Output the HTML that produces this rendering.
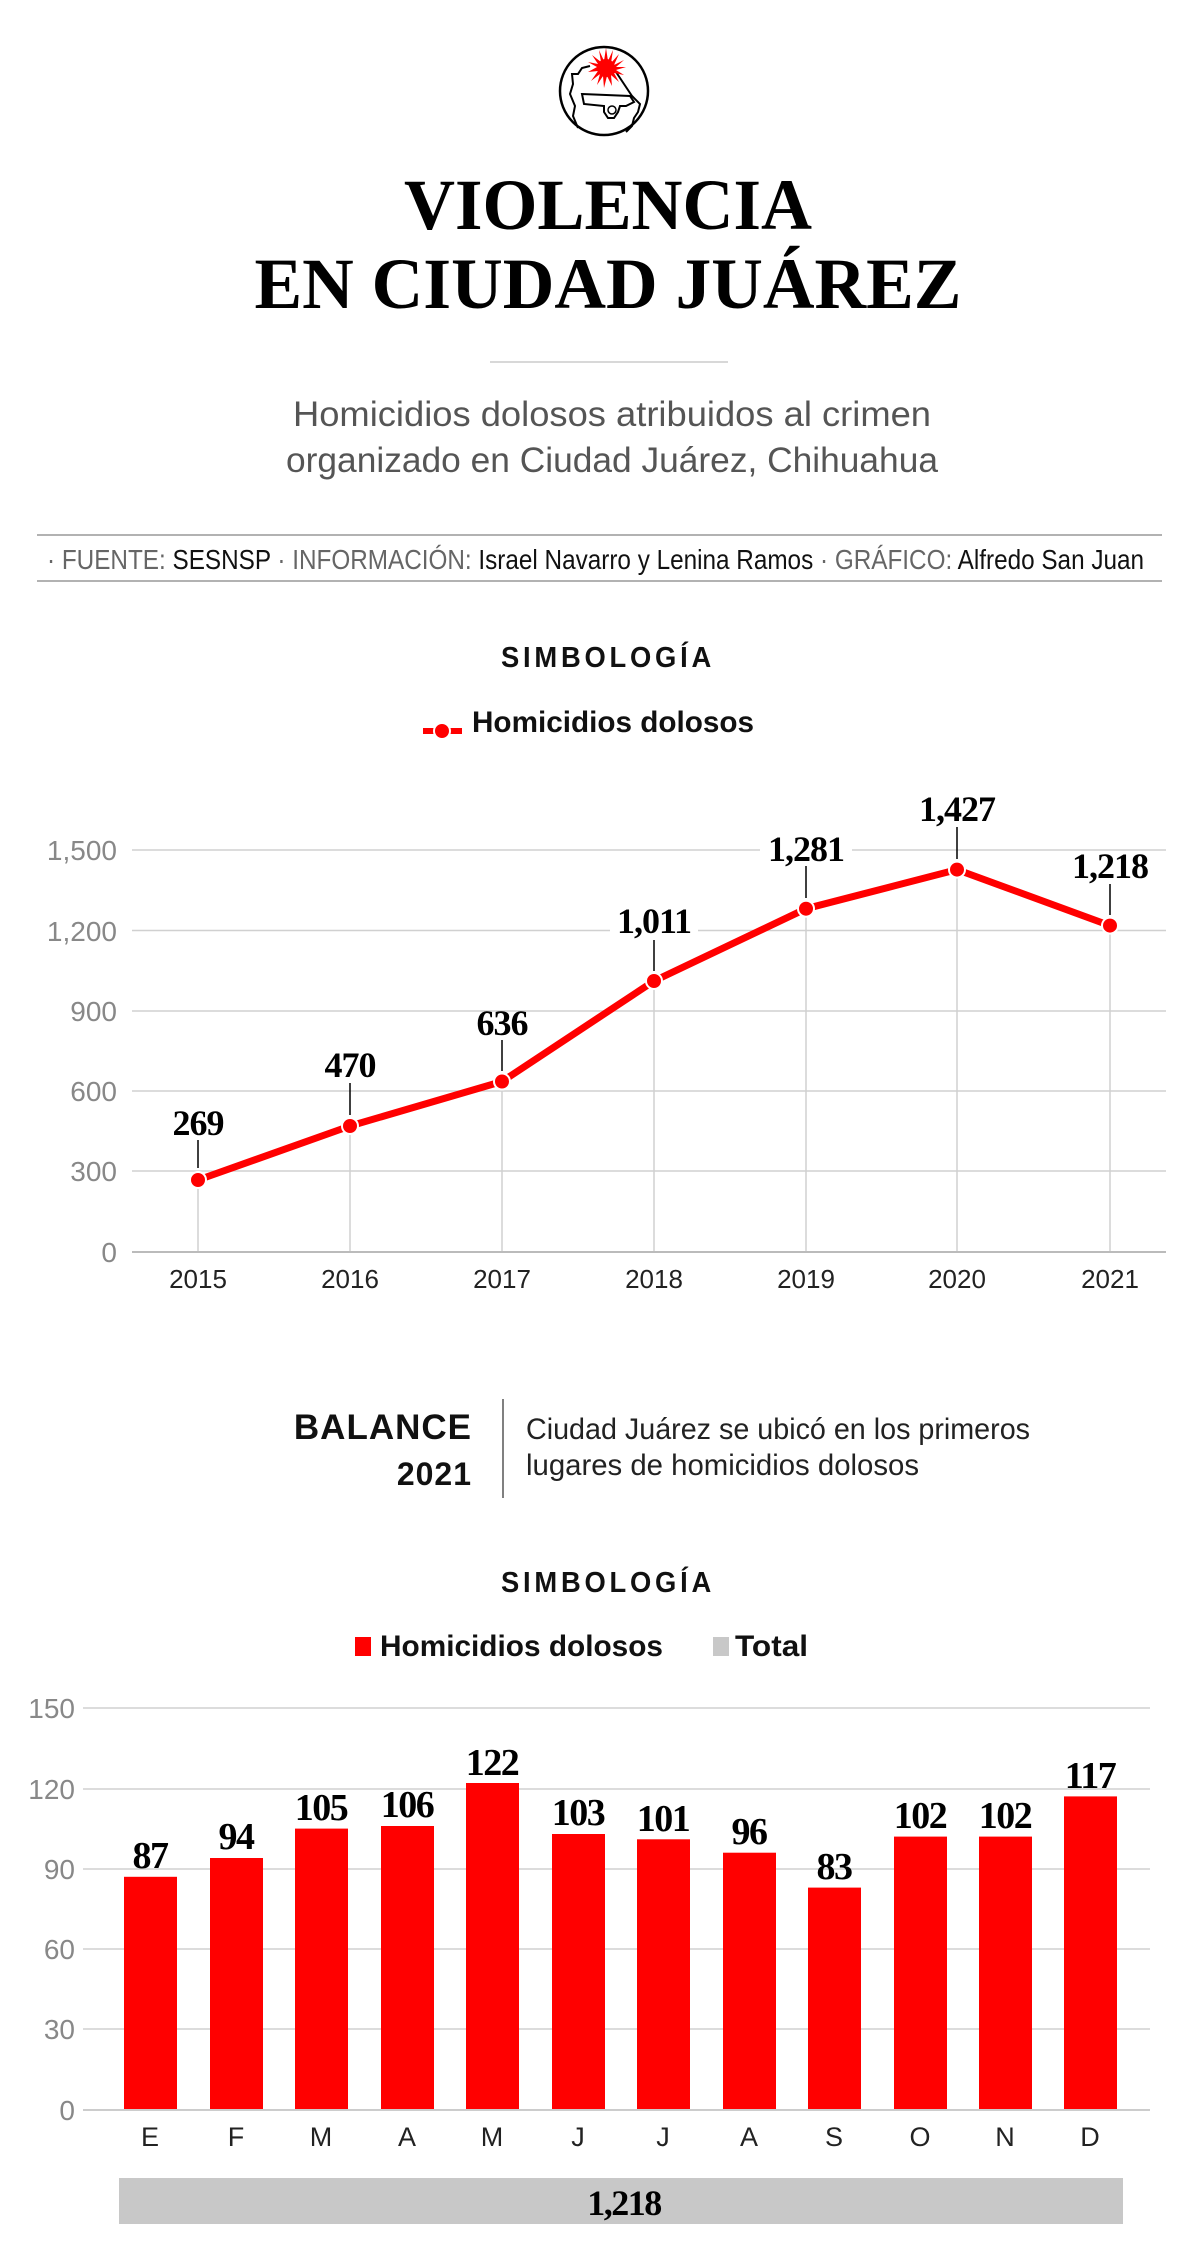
<!DOCTYPE html>
<html><head><meta charset="utf-8"><style>
html,body{margin:0;padding:0;background:#fff}
svg{display:block}
.cn{font-family:"Liberation Sans Narrow","Liberation Sans",sans-serif}
.sf{font-family:"Liberation Serif",serif;font-weight:bold}
</style></head><body>
<svg width="1200" height="2244" viewBox="0 0 1200 2244" xmlns="http://www.w3.org/2000/svg">
<rect width="1200" height="2244" fill="#fff"/>
<!-- logo -->
<g>
<circle cx="604" cy="91" r="44" fill="#fff" stroke="#000" stroke-width="2.5"/>
<path d="M590 66 L582 68 L578 74 L572 74 L573 84 L570 94 L575 106 L573 116 L578 128 M616 72 L624 84 L632 96 L640 104 L638 112 L634 118 L632 126 L626 132" fill="none" stroke="#000" stroke-width="2"/>
<path d="M582 94 L630 96 L634 102 L626 106 L620 106 L618 112 L614 118 L608 118 L604 112 L604 106 L584 104 Z" fill="#fff" stroke="#000" stroke-width="2"/>
<circle cx="612" cy="110" r="4" fill="none" stroke="#000" stroke-width="1.5"/>
<g fill="#f00">
<polygon points="606,48 608,61 613,50 611,63 619,54 614,65 624,60 616,67 626,67 616,70 624,75 614,73 619,82 611,75 612,86 607,76 604,88 603,76 597,85 600,74 591,81 598,71 588,72 597,67 588,62 598,64 592,55 601,62 599,50 604,61"/>
<circle cx="606" cy="68" r="9"/>
</g>
</g>
<!-- title -->
<text x="608" y="229" text-anchor="middle" class="sf" font-size="72" textLength="408" lengthAdjust="spacingAndGlyphs" fill="#000">VIOLENCIA</text>
<text x="608" y="308" text-anchor="middle" class="sf" font-size="72" textLength="707" lengthAdjust="spacingAndGlyphs" fill="#000">EN CIUDAD JUÁREZ</text>
<line x1="490" y1="362" x2="728" y2="362" stroke="#ccc" stroke-width="1.5"/>
<text x="612" y="426" text-anchor="middle" class="cn" font-size="35" fill="#555" textLength="638" lengthAdjust="spacingAndGlyphs">Homicidios dolosos atribuidos al crimen</text>
<text x="612" y="472" text-anchor="middle" class="cn" font-size="35" fill="#555" textLength="652" lengthAdjust="spacingAndGlyphs">organizado en Ciudad Juárez, Chihuahua</text>
<line x1="37" y1="535" x2="1162" y2="535" stroke="#999" stroke-width="1.5"/>
<line x1="37" y1="581" x2="1162" y2="581" stroke="#999" stroke-width="1.5"/>
<text x="47" y="569" class="cn" font-size="28" textLength="1097" lengthAdjust="spacingAndGlyphs"><tspan fill="#666">· FUENTE: </tspan><tspan fill="#111">SESNSP </tspan><tspan fill="#666">· INFORMACIÓN: </tspan><tspan fill="#111">Israel Navarro y Lenina Ramos </tspan><tspan fill="#666">· GRÁFICO: </tspan><tspan fill="#111">Alfredo San Juan</tspan></text>
<!-- legend 1 -->
<text x="608" y="667" text-anchor="middle" class="cn" font-weight="bold" font-size="29" letter-spacing="4" fill="#111" textLength="214" lengthAdjust="spacingAndGlyphs">SIMBOLOGÍA</text>
<line x1="423" y1="731" x2="462" y2="731" stroke="#f00" stroke-width="6"/>
<circle cx="442" cy="731" r="8" fill="#f00" stroke="#fff" stroke-width="2"/>
<text x="472" y="732" class="cn" font-weight="bold" font-size="30" fill="#111" textLength="282" lengthAdjust="spacingAndGlyphs">Homicidios dolosos</text>
<!-- chart 1 grid -->
<g stroke="#d0d0d0" stroke-width="1.5">
<line x1="132" y1="850" x2="1166" y2="850"/><line x1="132" y1="930.5" x2="1166" y2="930.5"/>
<line x1="132" y1="1011" x2="1166" y2="1011"/><line x1="132" y1="1091" x2="1166" y2="1091"/>
<line x1="132" y1="1171" x2="1166" y2="1171"/>
<line x1="198" y1="1180" x2="198" y2="1252"/><line x1="350" y1="1126" x2="350" y2="1252"/>
<line x1="502" y1="1081" x2="502" y2="1252"/><line x1="654" y1="981" x2="654" y2="1252"/>
<line x1="806" y1="909" x2="806" y2="1252"/><line x1="957" y1="870" x2="957" y2="1252"/>
<line x1="1110" y1="926" x2="1110" y2="1252"/>
</g>
<line x1="132" y1="1252" x2="1166" y2="1252" stroke="#bbb" stroke-width="2"/>
<g class="cn" font-size="28" fill="#888" text-anchor="end">
<text x="117" y="860">1,500</text><text x="117" y="941">1,200</text><text x="117" y="1021">900</text>
<text x="117" y="1101">600</text><text x="117" y="1181">300</text><text x="117" y="1262">0</text>
</g>
<g class="cn" font-size="26" fill="#222" text-anchor="middle">
<text x="198" y="1288">2015</text><text x="350" y="1288">2016</text><text x="502" y="1288">2017</text>
<text x="654" y="1288">2018</text><text x="806" y="1288">2019</text><text x="957" y="1288">2020</text><text x="1110" y="1288">2021</text>
</g>
<polyline points="198,1180 350,1126 502,1081.5 654,981 806,908.7 957,869.6 1110,925.6" fill="none" stroke="#f00" stroke-width="7" stroke-linejoin="round"/>
<g fill="#f00" stroke="#fff" stroke-width="2">
<circle cx="198" cy="1180" r="8"/><circle cx="350" cy="1126" r="8"/><circle cx="502" cy="1081.5" r="8"/>
<circle cx="654" cy="981" r="8"/><circle cx="806" cy="908.7" r="8"/><circle cx="957" cy="869.6" r="8"/><circle cx="1110" cy="925.6" r="8"/>
</g>
<g stroke="#000" stroke-width="1.5">
<line x1="198" y1="1140" x2="198" y2="1168"/><line x1="350" y1="1083" x2="350" y2="1115"/>
<line x1="502" y1="1040" x2="502" y2="1071"/><line x1="654" y1="940" x2="654" y2="971"/>
<line x1="806" y1="866" x2="806" y2="898"/><line x1="957" y1="827" x2="957" y2="859"/><line x1="1110" y1="884" x2="1110" y2="915"/>
</g>
<g class="sf" font-size="36" fill="#000" text-anchor="middle" letter-spacing="-1">
<text x="198" y="1135">269</text><text x="350" y="1077">470</text><text x="502" y="1035">636</text>
<rect x="610" y="906" width="88" height="30" fill="#fff"/>
<text x="654" y="933">1,011</text>
<rect x="760" y="835" width="92" height="30" fill="#fff"/>
<text x="806" y="861">1,281</text><text x="957" y="821">1,427</text>
<rect x="1062" y="855" width="96" height="26" fill="#fff"/>
<text x="1110" y="878">1,218</text>
</g>
<!-- balance -->
<text x="472" y="1439" text-anchor="end" class="cn" font-weight="bold" font-size="35" fill="#111" letter-spacing="1">BALANCE</text>
<text x="472" y="1485" text-anchor="end" class="cn" font-weight="bold" font-size="32" fill="#111" letter-spacing="1">2021</text>
<line x1="503" y1="1399" x2="503" y2="1498" stroke="#555" stroke-width="1.5"/>
<text x="526" y="1439" class="cn" font-size="30" fill="#222" textLength="504" lengthAdjust="spacingAndGlyphs">Ciudad Juárez se ubicó en los primeros</text>
<text x="526" y="1475" class="cn" font-size="30" fill="#222" textLength="393" lengthAdjust="spacingAndGlyphs">lugares de homicidios dolosos</text>
<!-- legend 2 -->
<text x="608" y="1592" text-anchor="middle" class="cn" font-weight="bold" font-size="29" letter-spacing="4" fill="#111" textLength="214" lengthAdjust="spacingAndGlyphs">SIMBOLOGÍA</text>
<rect x="355" y="1637" width="16" height="19" fill="#f00"/>
<text x="380" y="1656" class="cn" font-weight="bold" font-size="30" fill="#111" textLength="283" lengthAdjust="spacingAndGlyphs">Homicidios dolosos</text>
<rect x="713" y="1637" width="16" height="19" fill="#c8c8c8"/>
<text x="735" y="1656" class="cn" font-weight="bold" font-size="30" fill="#111" textLength="73" lengthAdjust="spacingAndGlyphs">Total</text>
<!-- chart 2 -->
<g stroke="#d0d0d0" stroke-width="1.5">
<line x1="83" y1="1708" x2="1150" y2="1708"/><line x1="83" y1="1789" x2="1150" y2="1789"/>
<line x1="83" y1="1869" x2="1150" y2="1869"/><line x1="83" y1="1949" x2="1150" y2="1949"/>
<line x1="83" y1="2029" x2="1150" y2="2029"/>
</g>
<g class="cn" font-size="28" fill="#888" text-anchor="end">
<text x="75" y="1718">150</text><text x="75" y="1799">120</text><text x="75" y="1879">90</text>
<text x="75" y="1959">60</text><text x="75" y="2039">30</text><text x="75" y="2120">0</text>
</g>
<g fill="#f00">
<rect x="124" y="1876.8" width="53" height="233.2"/>
<rect x="210" y="1858" width="53" height="252"/>
<rect x="295" y="1828.6" width="53" height="281.4"/>
<rect x="381" y="1826" width="53" height="284"/>
<rect x="466" y="1783" width="53" height="327"/>
<rect x="552" y="1834" width="53" height="276"/>
<rect x="637" y="1839.3" width="53" height="270.7"/>
<rect x="723" y="1852.7" width="53" height="257.3"/>
<rect x="808" y="1887.6" width="53" height="222.4"/>
<rect x="894" y="1836.6" width="53" height="273.4"/>
<rect x="979" y="1836.6" width="53" height="273.4"/>
<rect x="1064" y="1796.4" width="53" height="313.6"/>
</g>
<line x1="83" y1="2110" x2="1150" y2="2110" stroke="#ccc" stroke-width="2"/>
<g class="sf" font-size="38" fill="#000" text-anchor="middle" letter-spacing="-1.5">
<text x="150" y="1868">87</text><text x="236" y="1849">94</text><text x="321" y="1820">105</text>
<text x="407" y="1817">106</text><text x="492" y="1775">122</text><text x="578" y="1825">103</text>
<text x="663" y="1831">101</text><text x="749" y="1844">96</text><text x="834" y="1879">83</text>
<text x="920" y="1828">102</text><text x="1005" y="1828">102</text><text x="1090" y="1788">117</text>
</g>
<g class="cn" font-size="27" fill="#222" text-anchor="middle">
<text x="150" y="2146">E</text><text x="236" y="2146">F</text><text x="321" y="2146">M</text>
<text x="407" y="2146">A</text><text x="492" y="2146">M</text><text x="578" y="2146">J</text>
<text x="663" y="2146">J</text><text x="749" y="2146">A</text><text x="834" y="2146">S</text>
<text x="920" y="2146">O</text><text x="1005" y="2146">N</text><text x="1090" y="2146">D</text>
</g>
<rect x="119" y="2178" width="1004" height="46" fill="#c8c8c8"/>
<text x="624" y="2215" text-anchor="middle" class="sf" font-size="36" letter-spacing="-1.5" fill="#000">1,218</text>
</svg>
</body></html>
